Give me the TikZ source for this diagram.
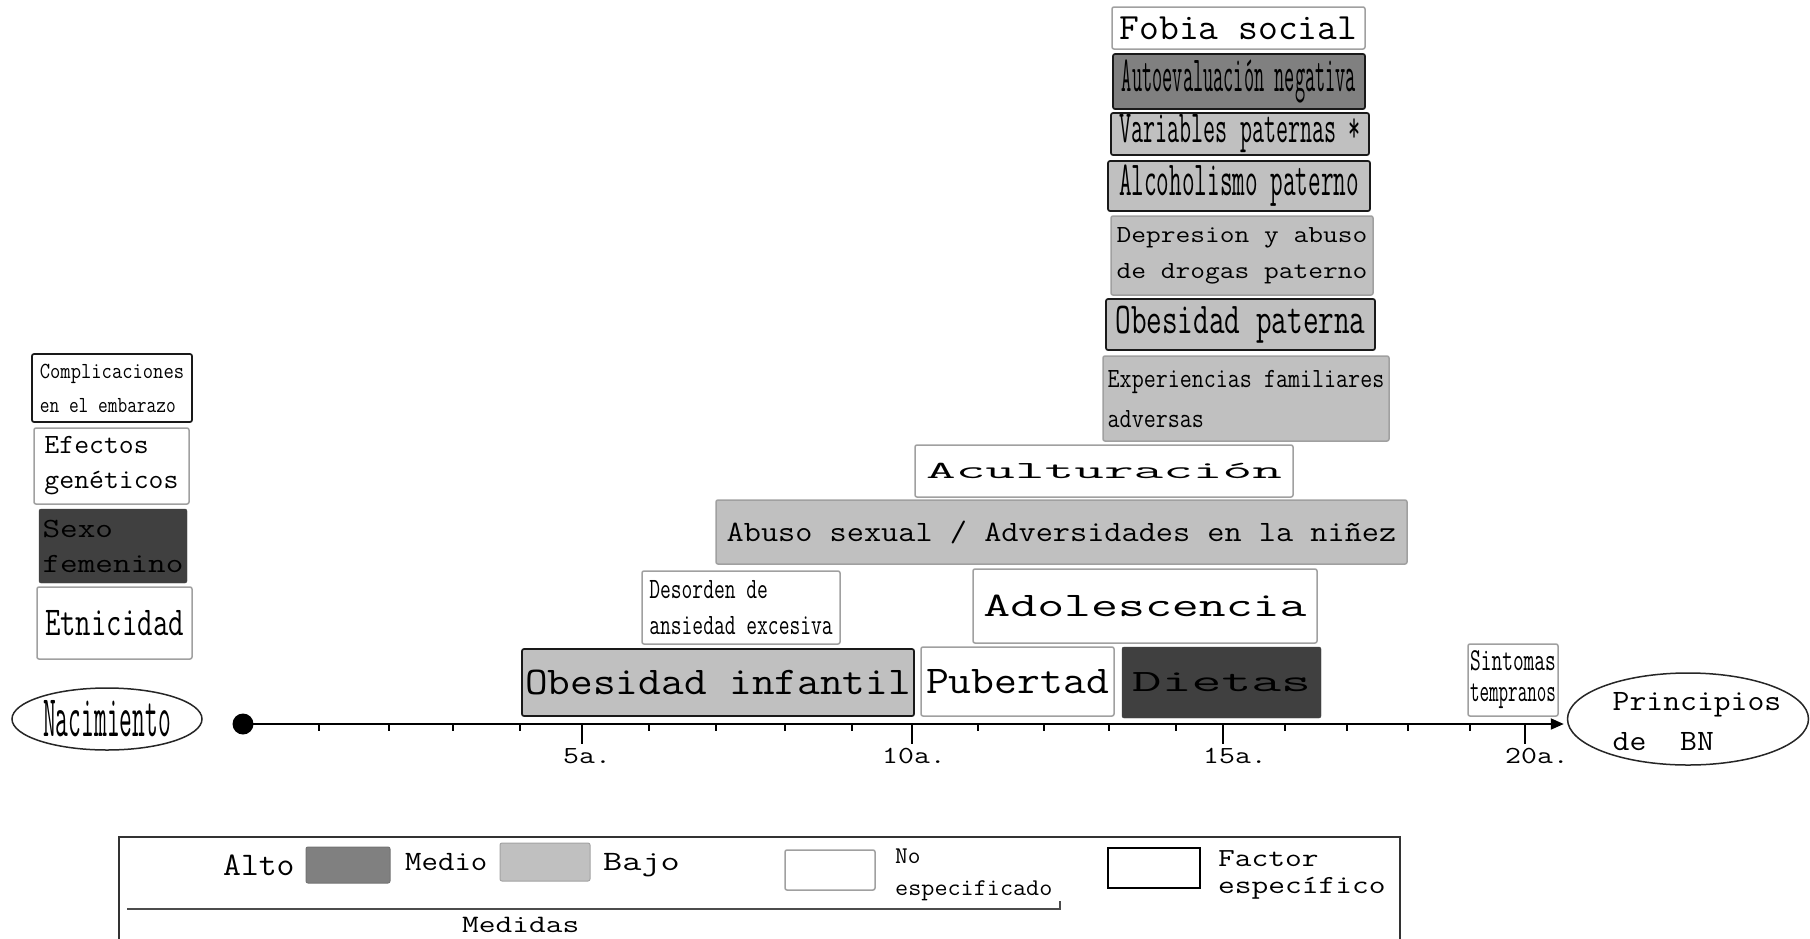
\documentclass[tikz,border=0pt]{standalone}
\usepackage{fontspec}
\usetikzlibrary{shapes.geometric,arrows.meta}
\definecolor{alto}{HTML}{808080}
\definecolor{medio}{HTML}{C0C0C0}
\definecolor{oscuro}{HTML}{404040}
\definecolor{borde}{HTML}{A0A0A0}
% horizontal scaling of a text line
\newcommand\sx[2]{\scalebox{#1}[1]{#2}}
\tikzset{
  fac/.style={draw=black!90, line width=1.7pt, rounded corners=2pt, inner sep=0pt},
  nesp/.style={draw=borde, line width=1.5pt, rounded corners=2pt, inner sep=0pt},
  hi/.style={fill=alto},
  lo/.style={fill=medio},
  dk/.style={fill=oscuro},
  wt/.style={fill=white},
  dim/.style 2 args={minimum width=#1pt, minimum height=#2pt},
  sz/.style 2 args={font=\ttfamily\fontsize{#1}{#2}\selectfont},
  lbl/.style={inner sep=0pt, anchor=base west},
  oval/.style={ellipse, draw=black!85, line width=1.5pt, inner sep=0pt},
  tick/.style={line width=1.6pt},
}
\begin{document}
\begin{tikzpicture}[x=1pt,y=-1pt]
\useasboundingbox (0,0) rectangle (1810,938);
\fill[white] (0,0) rectangle (1810,938);

% ---- factors before birth (left column)
\node[fac,wt,dim={160}{68},sz={23}{34},align=left] (comp) at (112,388)
  {\sx{0.87}{Complicaciones}\\\sx{0.82}{en el embarazo}};
\node[nesp,wt,dim={155}{76},sz={27.8}{35},align=left] (efe) at (111.5,466)
  {\sx{1.04}{Efectos\hphantom{xx}}\\\sx{1.04}{genéticos}};
\node[draw=oscuro,dk,rounded corners=2pt,inner sep=0pt,dim={148}{74},sz={27.8}{35},align=left] (sexo) at (113,546)
  {\sx{1.23}{Sexo\hphantom{xxxx}}\\\sx{1.23}{femenino}};
\node[nesp,wt,dim={155}{72},sz={41}{41}] (etn) at (114.5,623) {\sx{0.73}{Etnicidad}};

% ---- parental and family factors (top stack)
\node[nesp,wt,dim={253}{42},sz={37}{37}] (fobia) at (1238.5,28) {\sx{1.04}{Fobia social}};
\node[fac,hi,dim={252}{55},sz={50.7}{50.7}] (auto) at (1239,81.5) {\sx{0.39}{Autoevaluación negativa}};
\node[fac,lo,dim={258}{42},sz={45.8}{45.8}] (var) at (1240,134) {\sx{0.51}{Variables paternas *}};
\node[fac,lo,dim={262}{50},sz={49}{49}] (alc) at (1239,186) {\sx{0.50}{Alcoholismo paterno}};
\node[nesp,lo,dim={262}{79},sz={24.5}{36},align=left] (dep) at (1242,255.5)
  {\sx{1.17}{Depresion y abuso}\\\sx{1.17}{de drogas paterno}};
\node[fac,lo,dim={269}{51},sz={44}{44}] (obp) at (1240.5,324.5) {\sx{0.69}{Obesidad paterna}};
\node[nesp,lo,dim={286}{85},sz={27.8}{40},align=left] (exp) at (1246,398.5)
  {\sx{0.84}{Experiencias familiares}\\\sx{0.84}{adversas\hphantom{xxxxxxxxxxxxxxx}}};

% ---- childhood and adolescence
\node[nesp,wt,dim={378}{52},sz={24.5}{24.5}] (acu) at (1104,471) {\sx{2.35}{Aculturación}};
\node[nesp,lo,dim={691}{64},sz={29.5}{29.5}] (abu) at (1061.5,532) {\sx{1.13}{Abuso sexual / Adversidades en la niñez}};
\node[nesp,wt,dim={198}{73},sz={29.5}{36},align=left] (des) at (741,607.5)
  {\sx{0.71}{Desorden de\hphantom{xxxxxx}}\\\sx{0.71}{ansiedad excesiva}};
\node[nesp,wt,dim={344}{74},sz={34.4}{34.4}] (ado) at (1145,606) {\sx{1.52}{Adolescencia}};
\node[fac,lo,dim={392}{67},sz={39.3}{39.3}] (obi) at (718,682.5) {\sx{1.12}{Obesidad infantil}};
\node[nesp,wt,dim={193}{69},sz={39.3}{39.3}] (pub) at (1017.5,681.5) {\sx{1.13}{Pubertad}};
\node[draw=black!75,dk,rounded corners=2pt,inner sep=0pt,dim={199}{71},sz={31}{31}] (die) at (1221.5,682.5) {\sx{1.87}{Dietas}};
\node[nesp,wt,dim={90}{72},sz={32}{31},align=center] (sin) at (1513,680)
  {\sx{0.65}{Sintomas}\\\sx{0.58}{tempranos}};

% ---- time line
\node[oval,minimum width=190pt,minimum height=62pt,sz={59}{59}] (nac) at (107,719) {\sx{0.42}{Nacimiento}};
\node[oval,minimum width=241pt,minimum height=92pt] (bn) at (1688,719) {};
\node[sz={29.5}{40},align=left,inner sep=0pt] (bntxt) at (1697,722)
  {\sx{1.11}{Principios}\\\sx{1.11}{de\ \ BN\hphantom{xxxx}}};
\node[circle,fill=black,inner sep=0pt,minimum size=21pt] (dot) at (243,724) {};
\draw[line width=2pt,-{Triangle[length=13pt,width=11pt]}] (dot.center) -- ([xshift=-3pt]dot -| bn.west);
\foreach \t in {319,389,453,520,649,716,785,852,978,1044,1109,1176,1285,1347,1408,1470}
  \draw[tick] (\t,724) -- (\t,731);
\foreach \t in {582,912,1223,1525}
  \draw[tick] (\t,724) -- (\t,744);
\node[lbl,sz={24.5}{24.5}] (a5) at (563,763) {\sx{1.26}{5a.}};
\node[lbl,sz={24.5}{24.5}] (a10) at (882,763) {\sx{1.26}{10a.}};
\node[lbl,sz={24.5}{24.5}] (a15) at (1203,763) {\sx{1.26}{15a.}};
\node[lbl,sz={24.5}{24.5}] (a20) at (1505,763) {\sx{1.26}{20a.}};

% ---- legend
\draw[line width=1.7pt,draw=black!80] (119,950) -- (119,837) -- (1400,837) -- (1400,950);
\node[lbl,sz={33}{33}] (lalto) at (223,875) {\sx{1.05}{Alto}};
\node[draw=alto!90!black,hi,line width=1pt,rounded corners=2pt,dim={84}{36}] (swalto) at (348,865) {};
\node[lbl,sz={28}{28}] (lmedio) at (405,870) {\sx{1.14}{Medio}};
\node[draw=medio!85!black,lo,line width=1pt,rounded corners=2pt,dim={90}{38}] (swmedio) at (545,862) {};
\node[lbl,sz={28}{28}] (lbajo) at (603,870) {\sx{1.33}{Bajo}};
\node[nesp,wt,dim={90}{40}] (swno) at (830,870) {};
\node[lbl,sz={24}{24}] (lno) at (895,863) {\sx{1.03}{No}};
\node[lbl,sz={24}{24}] (lesp) at (895,895) {\sx{1.06}{especificado}};
\node[draw=black,line width=2pt,wt,inner sep=0pt,dim={92}{40}] (swfac) at (1154,868) {};
\node[lbl,sz={26}{26}] (lfac) at (1218,866) {\sx{1.25}{Factor}};
\node[lbl,sz={26}{26}] (lfesp) at (1218,893) {\sx{1.25}{específico}};
\coordinate (brL) at (127,909);
\coordinate (brR) at (1060,909);
\draw[line width=1.4pt,draw=black!70] (brL) -- (brR) -- ++(0,-8);
\node[lbl,sz={25}{25}] (lmed) at (462,932) {\sx{1.3}{Medidas}};
\end{tikzpicture}
\end{document}
